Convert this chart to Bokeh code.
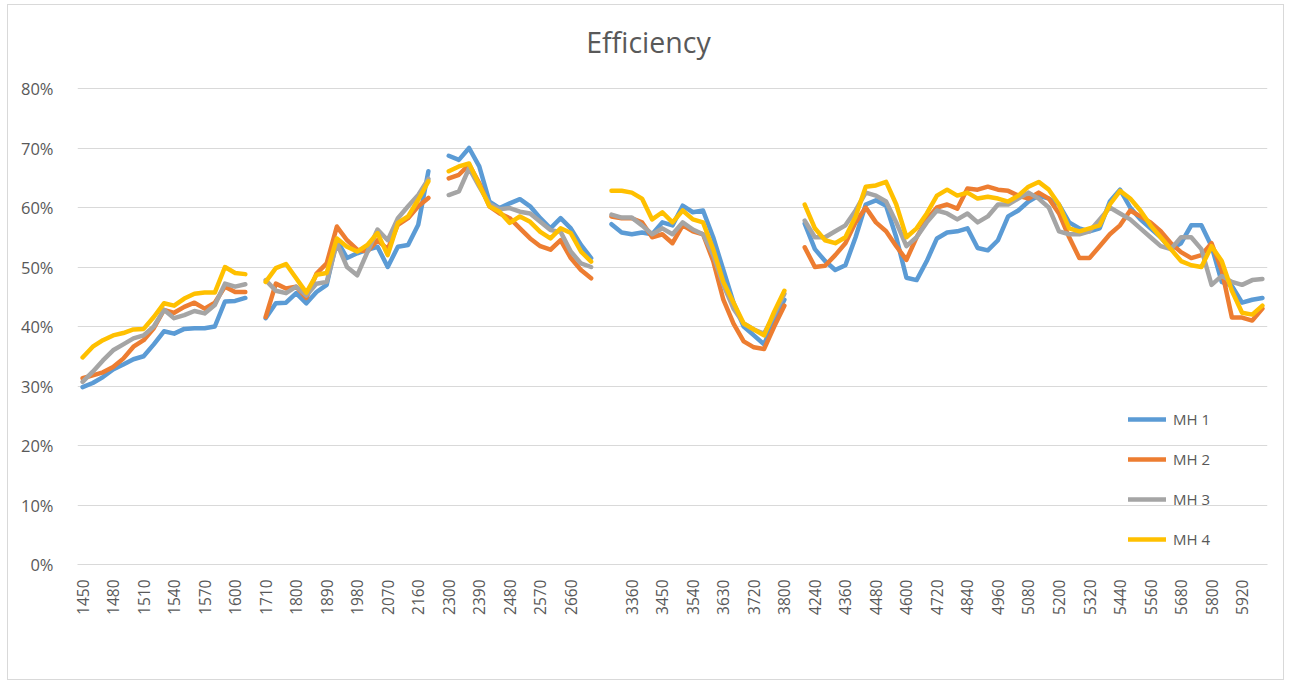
import math
from bokeh.plotting import figure
from bokeh.models import Range1d, FixedTicker, Legend, LegendItem, ColumnDataSource, Label
from bokeh.embed import file_html
from bokeh.resources import INLINE

# ---- categories (segments separated by an empty row) ----
cat_a = list(range(1450, 1620, 10))
cat_b = list(range(1710, 2200, 30))
cat_c = list(range(2300, 2730, 30))
cat_d = [3300, 3330, 3360, 3390, 3420, 3450, 3480, 3510, 3540, 3570, 3600, 3630,
         3660, 3690, 3720, 3750, 3780, 3800]
cat_e = list(range(4200, 6040, 40))

# ---- efficiency values (%) ----
mh1_a = [29.8, 30.5, 31.5, 32.8, 33.6, 34.5, 35.0, 37.0, 39.2, 38.8, 39.6, 39.7, 39.7, 40.0, 44.2, 44.3, 44.8]
mh2_a = [31.3, 31.8, 32.3, 33.2, 34.6, 36.6, 37.7, 39.7, 42.8, 42.3, 43.3, 44.0, 43.0, 44.0, 46.7, 45.8, 45.8]
mh3_a = [30.7, 32.4, 34.3, 36.0, 37.0, 38.0, 38.5, 40.0, 42.8, 41.4, 41.9, 42.6, 42.2, 43.6, 47.2, 46.7, 47.1]
mh4_a = [34.8, 36.6, 37.7, 38.5, 38.9, 39.5, 39.6, 41.6, 43.9, 43.5, 44.7, 45.5, 45.7, 45.7, 50.0, 49.0, 48.8]

mh1_b = [41.4, 43.9, 44.0, 45.6, 43.9, 45.8, 47.0, 54.5, 51.5, 52.3, 52.9, 53.4, 50.0, 53.4, 53.7, 57.1, 66.1]
mh2_b = [41.6, 47.2, 46.4, 46.7, 44.8, 48.9, 50.6, 56.8, 54.5, 52.9, 52.6, 54.5, 53.0, 57.1, 58.2, 60.2, 61.6]
mh3_b = [47.8, 46.0, 45.6, 46.7, 45.2, 47.2, 47.5, 54.0, 50.0, 48.6, 52.5, 56.3, 54.5, 58.2, 60.2, 62.1, 64.8]
mh4_b = [47.5, 49.8, 50.5, 48.1, 45.7, 48.7, 49.0, 54.8, 53.4, 52.6, 53.7, 55.7, 52.0, 57.4, 58.5, 61.3, 64.4]

mh1_c = [68.7, 68.0, 70.0, 66.9, 61.0, 59.9, 60.7, 61.4, 60.2, 58.2, 56.5, 58.2, 56.5, 53.7, 51.5]
mh2_c = [64.9, 65.5, 67.2, 64.1, 60.2, 59.0, 58.2, 56.5, 54.8, 53.5, 52.9, 54.5, 51.5, 49.5, 48.1]
mh3_c = [62.1, 62.7, 66.6, 63.5, 60.6, 59.7, 59.9, 59.3, 59.0, 57.6, 56.2, 55.9, 52.6, 50.6, 50.0]
mh4_c = [66.1, 66.9, 67.4, 63.8, 60.2, 59.3, 57.4, 58.5, 57.6, 55.9, 54.8, 56.5, 55.7, 52.6, 50.9]

mh1_d = [57.2, 55.8, 55.5, 55.8, 55.5, 57.5, 57.0, 60.3, 59.2, 59.5, 55.0, 49.5, 44.0, 40.0, 38.5, 37.0, 41.0, 44.5]
mh2_d = [58.5, 58.2, 58.2, 57.5, 55.0, 55.5, 54.0, 57.0, 56.0, 55.5, 51.0, 44.5, 40.5, 37.5, 36.5, 36.2, 40.0, 43.5]
mh3_d = [58.8, 58.3, 58.3, 57.0, 55.5, 56.5, 55.5, 57.5, 56.3, 55.5, 52.0, 47.0, 43.0, 40.5, 39.5, 38.8, 42.0, 45.5]
mh4_d = [62.8, 62.8, 62.5, 61.5, 58.0, 59.2, 57.5, 59.5, 58.0, 57.5, 53.0, 47.5, 44.0, 40.5, 39.5, 38.5, 42.5, 46.0]

mh1_e = [57.3, 53.0, 51.0, 49.5, 50.3, 55.0, 60.5, 61.2, 60.3, 55.0, 48.2, 47.8, 51.0, 54.8, 55.8, 56.0,
         56.5, 53.2, 52.8, 54.5, 58.5, 59.5, 61.0, 62.0, 61.5, 60.5, 57.5, 56.5, 56.0, 56.5, 61.0, 63.0,
         60.0, 58.0, 56.5, 55.0, 53.0, 54.0, 57.0, 57.0, 53.5, 47.5, 46.8, 44.0, 44.5, 44.8]
mh2_e = [53.3, 50.0, 50.2, 52.0, 54.0, 57.5, 60.0, 57.5, 56.0, 53.5, 51.2, 55.0, 58.0, 60.0, 60.5, 59.8,
         63.2, 63.0, 63.5, 63.0, 62.8, 62.0, 61.5, 62.5, 61.5, 59.0, 55.0, 51.5, 51.5, 53.5, 55.5, 57.0,
         59.5, 58.5, 57.5, 56.0, 54.0, 52.5, 51.5, 52.0, 54.0, 49.5, 41.5, 41.5, 41.0, 43.0]
mh3_e = [57.8, 55.0, 55.0, 56.0, 57.0, 59.5, 62.5, 62.0, 61.0, 57.5, 53.5, 55.0, 57.5, 59.5, 59.0, 58.0,
         59.0, 57.5, 58.5, 60.5, 60.5, 61.5, 62.5, 61.5, 60.0, 56.0, 55.5, 55.5, 56.0, 58.0, 60.0, 59.0,
         58.0, 56.5, 55.0, 53.5, 53.0, 55.0, 55.0, 53.0, 47.0, 48.5, 47.5, 47.0, 47.8, 48.0]
mh4_e = [60.5, 56.5, 54.5, 54.0, 55.0, 58.5, 63.5, 63.7, 64.3, 60.5, 55.0, 56.5, 59.0, 62.0, 63.0, 62.0,
         62.5, 61.5, 61.8, 61.5, 61.0, 62.0, 63.5, 64.3, 63.0, 60.5, 56.5, 56.0, 56.5, 57.0, 60.5, 62.8,
         61.5, 59.5, 57.0, 55.0, 53.0, 51.0, 50.3, 50.0, 53.5, 51.0, 46.0, 42.3, 42.0, 43.5]

series_names = ["MH 1", "MH 2", "MH 3", "MH 4"]
colors = ["#5B9BD5", "#ED7D31", "#A5A5A5", "#FFC000"]
chart_title = "Efficiency"
y_ticks = [0, 0.1, 0.2, 0.3, 0.4, 0.5, 0.6, 0.7, 0.8]

cat_segments = [cat_a, cat_b, cat_c, cat_d, cat_e]
series_segments = [
    [mh1_a, mh1_b, mh1_c, mh1_d, mh1_e],
    [mh2_a, mh2_b, mh2_c, mh2_d, mh2_e],
    [mh3_a, mh3_b, mh3_c, mh3_d, mh3_e],
    [mh4_a, mh4_b, mh4_c, mh4_d, mh4_e],
]

# build category labels with an empty row between segments
labels = []
for k, seg in enumerate(cat_segments):
    if k > 0:
        labels.append("")
    labels.extend(str(c) for c in seg)
n = len(labels)
xs = list(range(n))

def join(segs):
    out = []
    for k, seg in enumerate(segs):
        if k > 0:
            out.append(float("nan"))
        out.extend(v / 100.0 for v in seg)
    return out

FONT = "Open Sans"
TXT = "#595959"
W, H = 1277, 676
BORDER_TOP, BORDER_BOTTOM = 8, 117
frame_h = H - BORDER_TOP - BORDER_BOTTOM          # 551 px
px_per_unit = 476 / 0.8                            # 0..80 % spans 476 px
y_end = frame_h / px_per_unit                      # headroom above 80 % holds the title

p = figure(width=W, height=H, output_backend="svg", toolbar_location=None,
           x_range=Range1d(-0.5, n - 0.5), y_range=Range1d(0, y_end),
           min_border_left=69, min_border_right=18, min_border_top=BORDER_TOP,
           min_border_bottom=BORDER_BOTTOM)
p.styles = {"margin-left": "7px", "margin-top": "4px", "border": "1px solid #D9D9D9"}
p.outline_line_color = None
p.background_fill_color = "white"
p.border_fill_color = "white"

# title (screen units relative to the frame's bottom-left corner)
title_label = Label(x=571, y=523, x_units="screen", y_units="screen", text=chart_title,
                    text_align="center", text_baseline="middle", text_font=FONT,
                    text_font_size="28.5px", text_color=TXT)
p.add_layout(title_label)

renderers = []
for name, col, segs in zip(series_names, colors, series_segments):
    src = ColumnDataSource(dict(x=xs, y=join(segs)))
    r = p.line("x", "y", source=src, line_color=col, line_width=4.5,
               line_join="round", line_cap="round")
    renderers.append(r)

# axes
tick_pos = [i for i in range(0, n, 3) if labels[i] != ""]
p.xaxis.ticker = FixedTicker(ticks=tick_pos)
p.xaxis.major_label_overrides = {i: labels[i] for i in tick_pos}
p.xaxis.major_label_orientation = math.pi / 2
p.xaxis.major_label_text_font = FONT
p.xaxis.major_label_text_font_size = "15.5px"
p.xaxis.major_label_text_color = TXT
p.xaxis.major_label_standoff = 9
p.xaxis.axis_line_color = "#D9D9D9"
p.xaxis.major_tick_line_color = None
p.xaxis.minor_tick_line_color = None

p.yaxis.ticker = FixedTicker(ticks=y_ticks)
p.yaxis.major_label_overrides = {t: f"{round(t * 100)}%" for t in y_ticks}
p.yaxis.major_label_text_font = FONT
p.yaxis.major_label_text_font_size = "16.5px"
p.yaxis.major_label_text_color = TXT
p.yaxis.major_label_standoff = 18
p.yaxis.axis_line_color = None
p.yaxis.major_tick_line_color = None
p.yaxis.minor_tick_line_color = None

p.xgrid.grid_line_color = None
p.ygrid.grid_line_color = "#D9D9D9"
p.ygrid.grid_line_width = 1

legend = Legend(items=[LegendItem(label=nm, renderers=[r]) for nm, r in zip(series_names, renderers)],
                location=(1051, 15), orientation="vertical",
                glyph_width=38, glyph_height=20, spacing=20, label_standoff=7,
                padding=0, margin=0, border_line_color=None, background_fill_alpha=0,
                label_text_font=FONT, label_text_font_size="15px", label_text_color=TXT)
p.add_layout(legend)

open("out.html", "w").write(file_html(p, INLINE))
